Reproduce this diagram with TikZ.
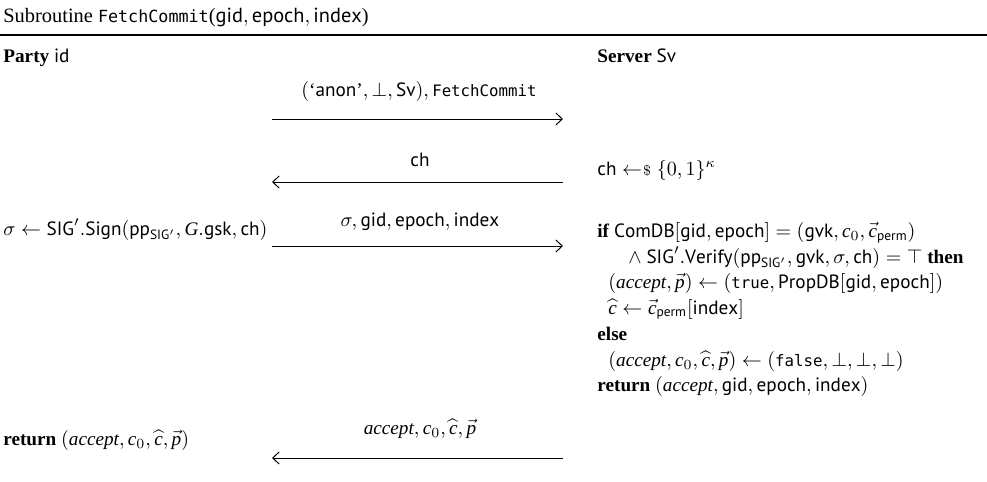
\documentclass[tikz,border=0pt]{standalone}
\usepackage{amsmath}
\usepackage{fontspec}
\setmainfont{Liberation Serif}
\setsansfont{PT Sans}
\setmonofont[Scale=0.82]{DejaVu Sans Mono}
\usetikzlibrary{arrows.meta}

% notation used in the protocol
\newcommand{\Sf}[1]{\mathsf{#1}}
\newcommand{\rndget}{\mathrel{\leftarrow\mkern-4mu{\scriptstyle\$}}}
\newcommand{\vc}{\vec{\mathit{c}}}
\newcommand{\vp}{\vec{\mathit{p}}}
\newcommand{\hc}{\widehat{\mathit{c}}}

\begin{document}
\begin{tikzpicture}[x=0.5pt,y=-0.5pt,
  txt/.style={anchor=base west,inner sep=0pt,font=\fontsize{9.6}{11}\selectfont},
  msg/.style={anchor=base,inner sep=0pt,font=\fontsize{9.6}{11}\selectfont},
  wire/.style={line width=0.5pt},
  tip/.style={-{Straight Barb[length=3.2pt,width=6pt,line width=0.5pt]}}]
\useasboundingbox (0,0) rectangle (987,482);

% heading and rule
\node[txt,font=\fontsize{10.2}{12}\selectfont] (title) at (3,22) {Subroutine \texttt{FetchCommit}($\Sf{gid}, \Sf{epoch}, \Sf{index}$)};
\coordinate (ruleL) at (0,35);
\coordinate (ruleR) at (987,35);
\draw[line width=0.6pt] (ruleL) -- (ruleR);

% parties
\node[txt] (party) at (3,62) {\textbf{Party} $\Sf{id}$};
\node[txt] (server) at (597,62) {\textbf{Server} $\Sf{Sv}$};

% message 1
\coordinate (m1l) at (272,119);
\coordinate (m1r) at (563,119);
\node[msg] (m1) at (419,97) {$(\text{`}\Sf{anon}\text{'}, \bot, \Sf{Sv}), \mathtt{FetchCommit}$};
\draw[wire,tip] (m1l) -- (m1r);

% message 2
\node[txt] (chal) at (597,175) {$\Sf{ch} \rndget \{0,1\}^{\kappa}$};
\coordinate (m2l) at (272,182);
\coordinate (m2r) at (563,182);
\node[msg] (m2) at (420,166) {$\Sf{ch}$};
\draw[wire,tip] (m2r) -- (m2l);

% message 3
\node[txt] (sign) at (3,235) {$\sigma \leftarrow \Sf{SIG}'.\Sf{Sign}(\Sf{pp}_{\Sf{SIG}'}, \mathit{G}.\Sf{gsk}, \Sf{ch})$};
\coordinate (m3l) at (272,246);
\coordinate (m3r) at (563,246);
\node[msg] (m3) at (420,226) {$\sigma, \Sf{gid}, \Sf{epoch}, \Sf{index}$};
\draw[wire,tip] (m3l) -- (m3r);

% server processing
\node[txt] (s1) at (597,237) {\textbf{if} $\Sf{ComDB}[\Sf{gid}, \Sf{epoch}] = (\Sf{gvk}, \mathit{c}_0, \vc_{\Sf{perm}})$};
\node[txt] (s2) at (628,263) {$\land\ \Sf{SIG}'.\Sf{Verify}(\Sf{pp}_{\Sf{SIG}'}, \Sf{gvk}, \sigma, \Sf{ch}) = \top$ \textbf{then}};
\node[txt] (s3) at (608,288) {$(\mathit{accept}, \vp) \leftarrow (\mathtt{true}, \Sf{PropDB}[\Sf{gid}, \Sf{epoch}])$};
\node[txt] (s4) at (608,314) {$\hc \leftarrow \vc_{\Sf{perm}}[\Sf{index}]$};
\node[txt] (s5) at (597,340) {\textbf{else}};
\node[txt] (s6) at (608,366) {$(\mathit{accept}, \mathit{c}_0, \hc, \vp) \leftarrow (\mathtt{false}, \bot, \bot, \bot)$};
\node[txt] (s7) at (597,391) {\textbf{return} $(\mathit{accept}, \Sf{gid}, \Sf{epoch}, \Sf{index})$};

% message 4
\node[txt] (ret) at (3,445) {\textbf{return} $(\mathit{accept}, \mathit{c}_0, \hc, \vp)$};
\coordinate (m4l) at (272,458);
\coordinate (m4r) at (563,458);
\node[msg] (m4) at (420,434) {$\mathit{accept}, \mathit{c}_0, \hc, \vp$};
\draw[wire,tip] (m4r) -- (m4l);
\end{tikzpicture}
\end{document}
